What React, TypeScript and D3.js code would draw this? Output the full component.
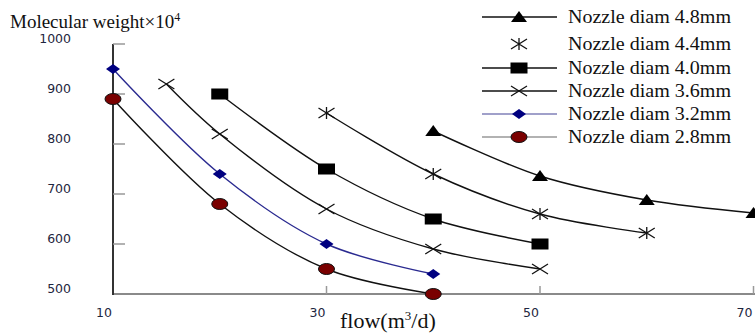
import React, { useEffect, useRef } from 'react';
import * as d3 from 'd3';

// flow (m3/d) and molecular weight (x10^4) per nozzle diameter
const flow48 = [40, 50, 60, 70];
const mw48 = [826, 736, 688, 662];
const flow44 = [30, 40, 50, 60];
const mw44 = [862, 740, 660, 622];
const flow40 = [20, 30, 40, 50];
const mw40 = [900, 750, 650, 600];
const flow36 = [15, 20, 30, 40, 50];
const mw36 = [920, 820, 670, 590, 550];
const flow32 = [10, 20, 30, 40];
const mw32 = [950, 740, 600, 540];
const flow28 = [10, 20, 30, 40];
const mw28 = [890, 680, 550, 500];

const seriesNames = [
  'Nozzle diam 4.8mm',
  'Nozzle diam 4.4mm',
  'Nozzle diam 4.0mm',
  'Nozzle diam 3.6mm',
  'Nozzle diam 3.2mm',
  'Nozzle diam 2.8mm',
];
const xTicks = [10, 30, 50, 70];
const yTicks = [500, 600, 700, 800, 900, 1000];

const W = 755;
const H = 336;

function drawMarker(g: any, type: string, x: number, y: number) {
  if (type === 'triangle') {
    g.append('path')
      .attr('d', `M${x},${y - 6}L${x + 8},${y + 5}L${x - 8},${y + 5}Z`)
      .attr('fill', '#000');
  } else if (type === 'square') {
    g.append('rect')
      .attr('x', x - 8.5).attr('y', y - 5.5)
      .attr('width', 17).attr('height', 11)
      .attr('fill', '#000');
  } else if (type === 'cross' || type === 'star') {
    g.append('path')
      .attr('d', `M${x - 8},${y - 5}L${x + 8},${y + 5}M${x - 8},${y + 5}L${x + 8},${y - 5}` +
        (type === 'star' ? `M${x},${y - 6}L${x},${y + 6}` : ''))
      .attr('stroke', '#111').attr('stroke-width', 1.3).attr('fill', 'none');
  } else if (type === 'diamond') {
    g.append('path')
      .attr('d', `M${x - 7},${y}L${x},${y - 5}L${x + 7},${y}L${x},${y + 5}Z`)
      .attr('fill', '#000080');
  } else if (type === 'circle') {
    g.append('ellipse')
      .attr('cx', x).attr('cy', y).attr('rx', 8).attr('ry', 5.5)
      .attr('fill', '#7a0000').attr('stroke', '#111').attr('stroke-width', 1);
  }
}

export default function App() {
  const ref = useRef<SVGSVGElement>(null);

  useEffect(() => {
    const svg = d3.select(ref.current);
    svg.selectAll('*').remove();

    const x = d3.scaleLinear().domain([10, 70]).range([113, 753.5]);
    const y = d3.scaleLinear().domain([500, 1000]).range([294, 44]);

    const series = [
      { name: seriesNames[0], xs: flow48, ys: mw48, marker: 'triangle', line: '#111', legLine: '#111' },
      { name: seriesNames[1], xs: flow44, ys: mw44, marker: 'star', line: '#111', legLine: null },
      { name: seriesNames[2], xs: flow40, ys: mw40, marker: 'square', line: '#111', legLine: '#111' },
      { name: seriesNames[3], xs: flow36, ys: mw36, marker: 'cross', line: '#111', legLine: '#111' },
      { name: seriesNames[4], xs: flow32, ys: mw32, marker: 'diamond', line: '#2a2a90', legLine: '#8080b8' },
      { name: seriesNames[5], xs: flow28, ys: mw28, marker: 'circle', line: '#111', legLine: '#999' },
    ];

    // axes
    svg.append('line')
      .attr('x1', x(10)).attr('x2', W).attr('y1', y(500)).attr('y2', y(500))
      .attr('stroke', '#8a8a8a').attr('stroke-width', 2);
    svg.append('line')
      .attr('x1', x(10)).attr('x2', x(10)).attr('y1', y(1000)).attr('y2', y(500) + 1)
      .attr('stroke', '#333').attr('stroke-width', 2);

    yTicks.slice(1).forEach(t => {
      svg.append('line')
        .attr('x1', x(10)).attr('x2', x(10) + 12).attr('y1', y(t)).attr('y2', y(t))
        .attr('stroke', '#999').attr('stroke-width', 1.5);
    });
    yTicks.forEach(t => {
      svg.append('text')
        .attr('x', 71).attr('y', y(t) - 5)
        .attr('text-anchor', 'end').attr('dominant-baseline', 'middle')
        .attr('font-family', 'DejaVu Sans').attr('font-size', 12.5)
        .attr('fill', '#1e2640')
        .text(t);
    });
    xTicks.slice(1).forEach(t => {
      svg.append('line')
        .attr('x1', x(t)).attr('x2', x(t)).attr('y1', y(500)).attr('y2', y(500) - 8)
        .attr('stroke', '#999').attr('stroke-width', 1.5);
    });
    xTicks.forEach(t => {
      svg.append('text')
        .attr('x', x(t) - 9).attr('y', 313)
        .attr('text-anchor', 'middle').attr('dominant-baseline', 'middle')
        .attr('font-family', 'DejaVu Sans').attr('font-size', 12.5)
        .attr('fill', '#1e2640')
        .text(t);
    });

    // titles
    const yt = svg.append('text')
      .attr('x', 10).attr('y', 28)
      .attr('font-family', 'Liberation Serif').attr('font-size', 19).attr('fill', '#111');
    yt.append('tspan').text('Molecular weight×10');
    yt.append('tspan').attr('dy', -7).attr('font-size', 12).text('4');

    const xt = svg.append('text')
      .attr('x', 340).attr('y', 328)
      .attr('font-family', 'Liberation Serif').attr('font-size', 22).attr('fill', '#111');
    xt.append('tspan').text('flow(m');
    xt.append('tspan').attr('dy', -8).attr('font-size', 13).text('3');
    xt.append('tspan').attr('dy', 8).text('/d)');

    // curves
    const line = d3.line<[number, number]>()
      .x(d => x(d[0])).y(d => y(d[1]))
      .curve(d3.curveCatmullRom.alpha(0.5));

    series.forEach(s => {
      const pts: [number, number][] = s.xs.map((v, i) => [v, s.ys[i]]);
      svg.append('path')
        .attr('d', line(pts))
        .attr('fill', 'none').attr('stroke', s.line).attr('stroke-width', 1.4);
    });
    series.forEach(s => {
      const g = svg.append('g');
      s.xs.forEach((v, i) => drawMarker(g, s.marker, x(v), y(s.ys[i])));
    });

    // legend
    const legY = [17, 44, 68, 91, 114, 137];
    series.forEach((s, i) => {
      const g = svg.append('g');
      const ly = legY[i];
      if (s.legLine) {
        g.append('line')
          .attr('x1', 482).attr('x2', 557).attr('y1', ly).attr('y2', ly)
          .attr('stroke', s.legLine).attr('stroke-width', 1.4);
      }
      drawMarker(g, s.marker, 519, ly);
      g.append('text')
        .attr('x', 568).attr('y', ly + 6)
        .attr('font-family', 'Liberation Serif').attr('font-size', 18).attr('fill', '#111')
        .attr('textLength', 163).attr('lengthAdjust', 'spacingAndGlyphs')
        .text(s.name);
    });
  }, []);

  return (
    <svg ref={ref} width={W} height={H}
      style={{ position: 'absolute', left: 0, top: 0, background: '#fff' }} />
  );
}
